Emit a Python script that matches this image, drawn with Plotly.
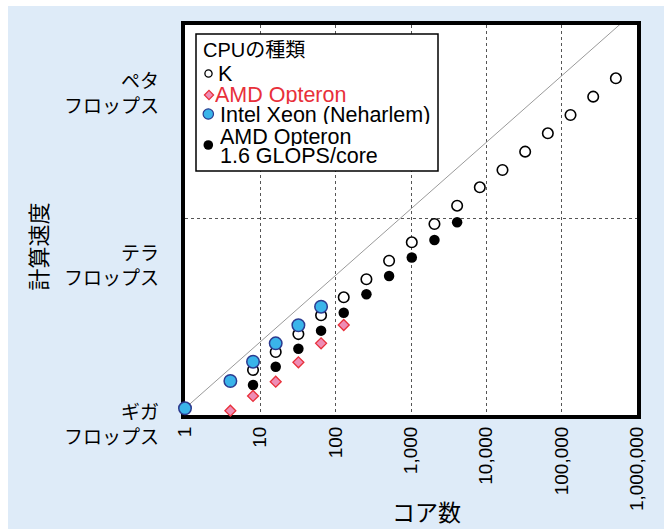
import plotly.graph_objects as go

# Sustained speed (GFLOPS) versus number of cores for each CPU type
k_cores = [8, 16, 32, 64, 128, 256, 512, 1024, 2048, 4096, 8192, 16384,
           32768, 65536, 131072, 262144, 524288]
k_gflops = [4.05, 7.80, 15.0, 29.8, 57.4, 111, 218, 427, 833, 1625, 3180, 5977,
            11660, 22810, 44480, 86750, 169700]

opteron_cores = [4, 8, 16, 32, 64, 128]
opteron_gflops = [0.916, 1.57, 2.64, 5.36, 10.7, 20.9]

xeon_cores = [1, 4, 8, 16, 32, 64]
xeon_gflops = [1.0, 2.71, 5.48, 10.7, 20.7, 40.7]

opteron16_cores = [8, 16, 32, 64, 128, 256, 512, 1024, 2048, 4096]
opteron16_gflops = [2.34, 4.56, 8.80, 17.0, 32.7, 64.1, 125, 245, 465, 887]

# reference scaling line
ref_cores = [1, 1e6]
ref_gflops = [1, 2.1e6]

x_tick_vals = [1, 10, 100, 1000, 10000, 100000, 1000000]
x_tick_text = ["1", "10", "100", "1,000", "10,000", "100,000", "1,000,000"]
y_grid_vals = [1000]
y_level_text = ["ペタ<br>フロップス", "テラ<br>フロップス", "ギガ<br>フロップス"]
legend_title = "CPUの種類"
series_names = ["K", "AMD Opteron", "Intel Xeon (Neharlem)", "AMD Opteron<br>1.6 GLOPS/core"]

# colours
BG = "#deebf8"
PINK = "#ee8db5"
RED = "#e8303a"
SKY = "#3ab4ea"
NAVY = "#2b3a8f"
GRID = "#555555"

W, H = 664, 529
L, R, T, B = 185, 637, 25, 415  # plot area edges in pixels


def fx(px):
    return (px - L) / (R - L)


def fy(py):
    return (B - py) / (B - T)


LATIN = "Liberation Sans, Arial, Noto Sans CJK JP, sans-serif"
CJK = "Noto Sans CJK JP, sans-serif"

fig = go.Figure()

fig.add_trace(go.Scatter(
    x=ref_cores, y=ref_gflops, mode="lines",
    line=dict(color="#9a9a9a", width=1), hoverinfo="skip"))

fig.add_trace(go.Scatter(
    x=k_cores, y=k_gflops, mode="markers", name=series_names[0], cliponaxis=False,
    marker=dict(symbol="circle", size=10.5, color="white",
                line=dict(color="black", width=1.6))))

fig.add_trace(go.Scatter(
    x=opteron16_cores, y=opteron16_gflops, mode="markers", name="AMD Opteron 1.6",
    cliponaxis=False,
    marker=dict(symbol="circle", size=10.5, color="black", line=dict(width=0))))

fig.add_trace(go.Scatter(
    x=opteron_cores, y=opteron_gflops, mode="markers", name=series_names[1],
    cliponaxis=False,
    marker=dict(symbol="diamond", size=8.4, color=PINK, line=dict(color=RED, width=1.3))))

fig.add_trace(go.Scatter(
    x=xeon_cores, y=xeon_gflops, mode="markers", name=series_names[2], cliponaxis=False,
    marker=dict(symbol="circle", size=12.5, color=SKY, line=dict(color=NAVY, width=1.5))))

shapes = [
    # page background with a thin white frame at top and left
    dict(type="rect", xref="paper", yref="paper", layer="below",
         x0=fx(8), x1=fx(W + 5), y0=fy(H + 5), y1=fy(6),
         fillcolor=BG, line=dict(width=0)),
    dict(type="rect", xref="paper", yref="paper", layer="below",
         x0=0, x1=1, y0=0, y1=1, fillcolor="white", line=dict(width=0)),
    # legend box
    dict(type="rect", xref="paper", yref="paper", layer="above",
         x0=fx(196), x1=fx(438), y0=fy(171), y1=fy(34),
         fillcolor="white", line=dict(color="black", width=1.5)),
]


def key_circle(cx, cy, r, fill, edge, lw):
    return dict(type="circle", xref="paper", yref="paper", layer="above",
                xsizemode="pixel", ysizemode="pixel",
                xanchor=fx(cx), yanchor=fy(cy), x0=-r, x1=r, y0=-r, y1=r,
                fillcolor=fill, line=dict(color=edge, width=lw))


shapes.append(key_circle(208.5, 73.5, 3.6, "white", "black", 1.3))
shapes.append(dict(type="path", xref="paper", yref="paper", layer="above",
                   xsizemode="pixel", ysizemode="pixel",
                   xanchor=fx(209), yanchor=fy(95),
                   path="M -4.6 0 L 0 4.6 L 4.6 0 L 0 -4.6 Z",
                   fillcolor=PINK, line=dict(color=RED, width=1.2)))
shapes.append(key_circle(208.3, 114, 5.2, SKY, NAVY, 1.2))
shapes.append(key_circle(208.3, 145, 4.8, "black", "black", 0))

annotations = []

# legend text, set in tight rows
legend_lines = [
    (legend_title, 202, 49.7, "black", 20),
    (series_names[0], 217, 73.7, "black", 21.5),
    (series_names[1], 214, 94.2, RED, 21.5),
    (series_names[2], 218.5, 114.5, "black", 21.5),
]
second = series_names[3].split("<br>")
legend_lines.append((second[0], 218.5, 136.7, "black", 21.5))
legend_lines.append((second[1], 218.5, 155.0, "black", 21.5))
for text, px, py, col, fs in legend_lines:
    annotations.append(dict(text=text, xref="paper", yref="paper",
                            x=fx(px), y=fy(py), xanchor="left", yanchor="middle",
                            height=19, borderpad=0, valign="middle",
                            showarrow=False, font=dict(family=LATIN, size=fs, color=col)))

# speed level labels on the left
for text, py in zip(y_level_text, [91.7, 264, 423.3]):
    annotations.append(dict(text=text, xref="paper", yref="paper",
                            x=fx(161), y=fy(py), xanchor="right", yanchor="middle",
                            align="right", showarrow=False,
                            font=dict(family=CJK, size=19, color="black")))

# axis titles
annotations.append(dict(text="計算速度", xref="paper", yref="paper",
                        x=fx(36), y=fy(246.5), xanchor="center", yanchor="middle",
                        textangle=-90, showarrow=False,
                        font=dict(family=CJK, size=22, color="black")))
annotations.append(dict(text="コア数", xref="paper", yref="paper",
                        x=fx(426), y=fy(511), xanchor="center", yanchor="middle",
                        showarrow=False, font=dict(family=CJK, size=23, color="black")))

fig.update_layout(
    width=W, height=H,
    margin=dict(l=L, r=W - R, t=T, b=H - B, pad=0),
    paper_bgcolor="white", plot_bgcolor="white",
    showlegend=False,
    shapes=shapes, annotations=annotations,
    xaxis=dict(type="log", range=[0, 6], tickmode="array",
               tickvals=x_tick_vals, ticktext=x_tick_text, tickangle=-90,
               tickfont=dict(family=LATIN, size=19, color="black"),
               ticks="", showline=True, linecolor="black", linewidth=4, mirror=True,
               showgrid=True, gridcolor=GRID, gridwidth=1, griddash="dot",
               zeroline=False, layer="below traces", automargin=False),
    yaxis=dict(type="log", range=[-0.106, 6.074], tickmode="array",
               tickvals=y_grid_vals, showticklabels=False,
               ticks="", showline=True, linecolor="black", linewidth=4, mirror=True,
               showgrid=True, gridcolor=GRID, gridwidth=1, griddash="dot",
               zeroline=False, layer="below traces", automargin=False),
)

fig.write_html("out.html")
